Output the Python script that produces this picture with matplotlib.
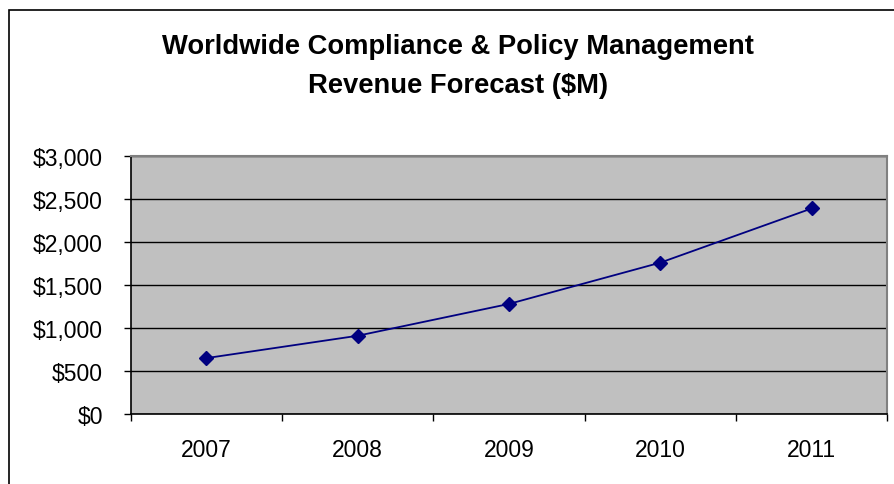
import matplotlib
matplotlib.use("Agg")
import matplotlib.pyplot as plt
from matplotlib.patches import Rectangle
from matplotlib.ticker import FuncFormatter, FixedLocator

# data
anos = ["2007", "2008", "2009", "2010", "2011"]
receita = [650, 910, 1280, 1760, 2390]

plt.rcParams["font.family"] = ["Liberation Sans", "DejaVu Sans"]

fig = plt.figure(figsize=(8.94, 4.85), dpi=100)
ax = fig.add_axes([0.1462, 0.1443, 0.8463, 0.532])

x = list(range(len(anos)))
ax.plot(x, receita, color="#000080", lw=1.3, marker="D", ms=7.5,
        markerfacecolor="#000080", markeredgecolor="#000080", zorder=3)

ax.set_facecolor("#C0C0C0")
ax.set_xlim(-0.5, len(anos) - 0.5)
ax.set_ylim(0, 3000)
ax.set_yticks(range(0, 3001, 500))
ax.yaxis.set_major_formatter(FuncFormatter(lambda v, p: "${:,.0f}".format(v)))
ax.yaxis.grid(True, color="black", lw=1.0)
ax.set_axisbelow(True)

# ticks at category borders, labels centered
ax.xaxis.set_major_locator(FixedLocator([i - 0.5 for i in range(len(anos) + 1)]))
ax.xaxis.set_major_formatter(FuncFormatter(lambda v, p: ""))
ax.xaxis.set_minor_locator(FixedLocator(x))
ax.set_xticks(x, anos, minor=True)
ax.tick_params(axis="x", which="major", length=5, width=1, direction="out", color="black")
ax.tick_params(axis="x", which="minor", length=0, pad=17, labelsize=16.5)
ax.tick_params(axis="y", length=5, width=1, direction="out", pad=15, labelsize=16.5)

for s in ["top", "right"]:
    ax.spines[s].set_color("#808080")
    ax.spines[s].set_linewidth(1.5)
for s in ["left", "bottom"]:
    ax.spines[s].set_color("black")
    ax.spines[s].set_linewidth(1.2)

fig.text(0.512, 1 - 47 / 485, "Worldwide Compliance & Policy Management",
         ha="center", va="center", fontsize=19.7, fontweight="bold")
fig.text(0.512, 1 - 86 / 485, "Revenue Forecast ($M)",
         ha="center", va="center", fontsize=19.7, fontweight="bold")

# chart area border
fig.patches.append(Rectangle((8.5 / 894, -0.1), 1.2, 1.1 - 10.5 / 485,
                             transform=fig.transFigure, fill=False,
                             edgecolor="black", lw=1.2))

fig.savefig("out.png", dpi=100)
